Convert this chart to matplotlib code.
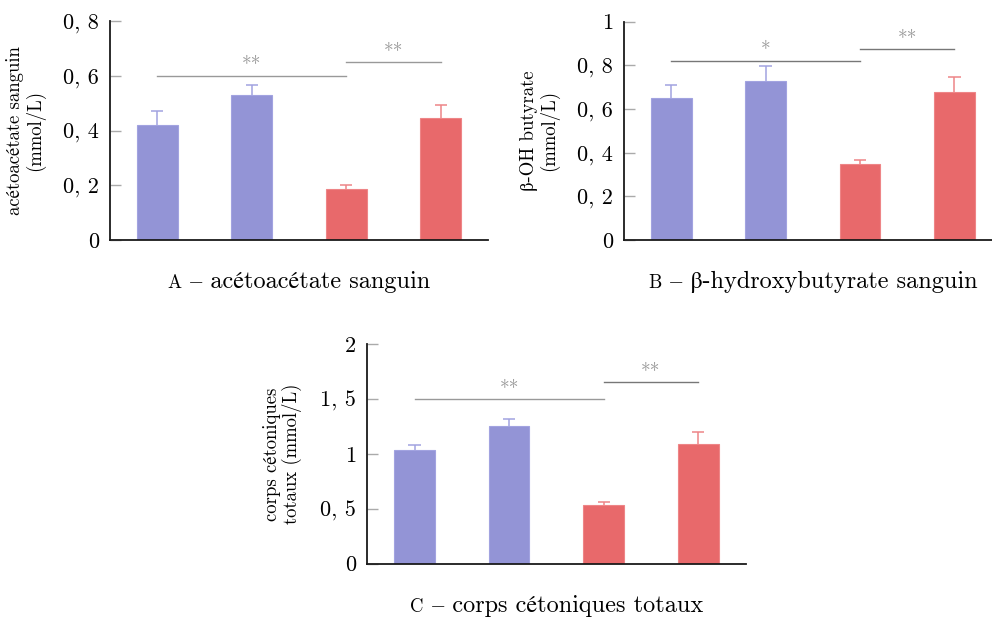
import matplotlib
matplotlib.use('Agg')
import matplotlib.pyplot as plt
import numpy as np

plt.rcParams['font.family'] = ['cmr10', 'STIXGeneral', 'DejaVu Serif']
plt.rcParams['mathtext.fontset'] = 'cm'

groups = ['G1', 'G2', 'G3', 'G4']
group_colors = ['#9394D6', '#9394D6', '#E8696B', '#E8696B']
err_colors = ['#A2A3E0', '#A2A3E0', '#EE8587', '#EE8587']

aceto_mean = [0.420, 0.530, 0.186, 0.446]
aceto_err = [0.051, 0.036, 0.014, 0.047]
bhb_mean = [0.648, 0.726, 0.349, 0.677]
bhb_err = [0.063, 0.072, 0.019, 0.070]
total_mean = [1.034, 1.252, 0.535, 1.094]
total_err = [0.048, 0.070, 0.027, 0.109]

aceto_ticks = [0, 0.2, 0.4, 0.6, 0.8]
aceto_ticklabels = ['0', '0, 2', '0, 4', '0, 6', '0, 8']
bhb_ticks = [0, 0.2, 0.4, 0.6, 0.8, 1.0]
bhb_ticklabels = ['0', '0, 2', '0, 4', '0, 6', '0, 8', '1']
total_ticks = [0, 0.5, 1.0, 1.5, 2.0]
total_ticklabels = ['0', '0, 5', '1', '1, 5', '2']

aceto_sig = [(0, 2, 0.60, '**'), (2, 3, 0.65, '**')]
bhb_sig = [(0, 2, 0.82, '*'), (2, 3, 0.873, '**')]
total_sig = [(0, 2, 1.50, '**'), (2, 3, 1.654, '**')]

W, H = 992, 618
fig = plt.figure(figsize=(W / 100, H / 100), dpi=100)
title_parts = []


def make_axes(x0, x1, ytop, ybot):
    return fig.add_axes([x0 / W, (H - ybot) / H, (x1 - x0) / W, (ybot - ytop) / H])


def panel(ax, means, errs, ticks, ticklabels, ymax, sig, ylabel, letter, title, sig_colors):
    x = np.arange(1, len(means) + 1)
    bw = 0.43
    ax.bar(x, means, width=bw, color=group_colors, edgecolor=err_colors, linewidth=0.8, zorder=2)
    tops = np.array(means) + np.array(errs)
    ax.vlines(x, means, tops, colors=err_colors, linewidth=1.1, zorder=3)
    ax.hlines(tops, x - 0.065, x + 0.065, colors=err_colors, linewidth=1.1, zorder=3)
    ax.set_xlim(0.5, 4.5)
    ax.set_ylim(0, ymax)
    ax.set_yticks(ticks)
    ax.set_yticklabels(ticklabels, fontsize=16)
    ax.set_xticks([])
    for s in ['top', 'right']:
        ax.spines[s].set_visible(False)
    for s in ['left', 'bottom']:
        ax.spines[s].set_color('#1a1a1a')
        ax.spines[s].set_linewidth(1.3)
    ax.tick_params(axis='y', direction='in', length=8, width=1.0, color='#aaaaaa', pad=8)
    ax.set_ylabel(ylabel, fontsize=13.5, linespacing=1.05)
    ax.yaxis.set_label_coords(-0.172, 0.5)
    for (i, j, y, txt), c in zip(sig, sig_colors):
        ax.plot([x[i], x[j]], [y, y], color=c, lw=1.0, zorder=1, clip_on=False)
        ax.text((x[i] + x[j]) / 2, y, txt, ha='center', va='baseline', fontsize=14,
                color='#999999', transform=ax.transData + matplotlib.transforms.ScaledTranslation(0, 4.4 / 100, fig.dpi_scale_trans))
    t1 = ax.text(0, -0.218, letter, transform=ax.transAxes, ha='left', va='baseline', fontsize=13.5)
    t2 = ax.text(0, -0.218, title, transform=ax.transAxes, ha='left', va='baseline', fontsize=17.5)
    title_parts.append((ax, t1, t2))


axA = make_axes(110, 488, 21, 240)
panel(axA, aceto_mean, aceto_err, aceto_ticks, aceto_ticklabels, 0.8, aceto_sig,
      'acétoacétate sanguin\n(mmol/L)', 'A', ' – acétoacétate sanguin', ['#999999', '#999999'])

axB = make_axes(624, 1001.7, 21.5, 240)
panel(axB, bhb_mean, bhb_err, bhb_ticks, bhb_ticklabels, 1.0, bhb_sig,
      'β-OH butyrate\n(mmol/L)', 'B', ' – β-hydroxybutyrate sanguin', ['#777777', '#777777'])

axC = make_axes(367.3, 745.5, 344.3, 563.7)
panel(axC, total_mean, total_err, total_ticks, total_ticklabels, 2.0, total_sig,
      'corps cétoniques\ntotaux (mmol/L)', 'C', ' – corps cétoniques totaux', ['#999999', '#777777'])

fig.canvas.draw()
r = fig.canvas.get_renderer()
for ax, t1, t2 in title_parts:
    axw = ax.get_window_extent().width
    w1 = t1.get_window_extent(r).width / axw
    w2 = t2.get_window_extent(r).width / axw
    x0 = 0.5 - (w1 + w2) / 2
    t1.set_x(x0)
    t2.set_x(x0 + w1)

fig.savefig('out.png', dpi=100)
